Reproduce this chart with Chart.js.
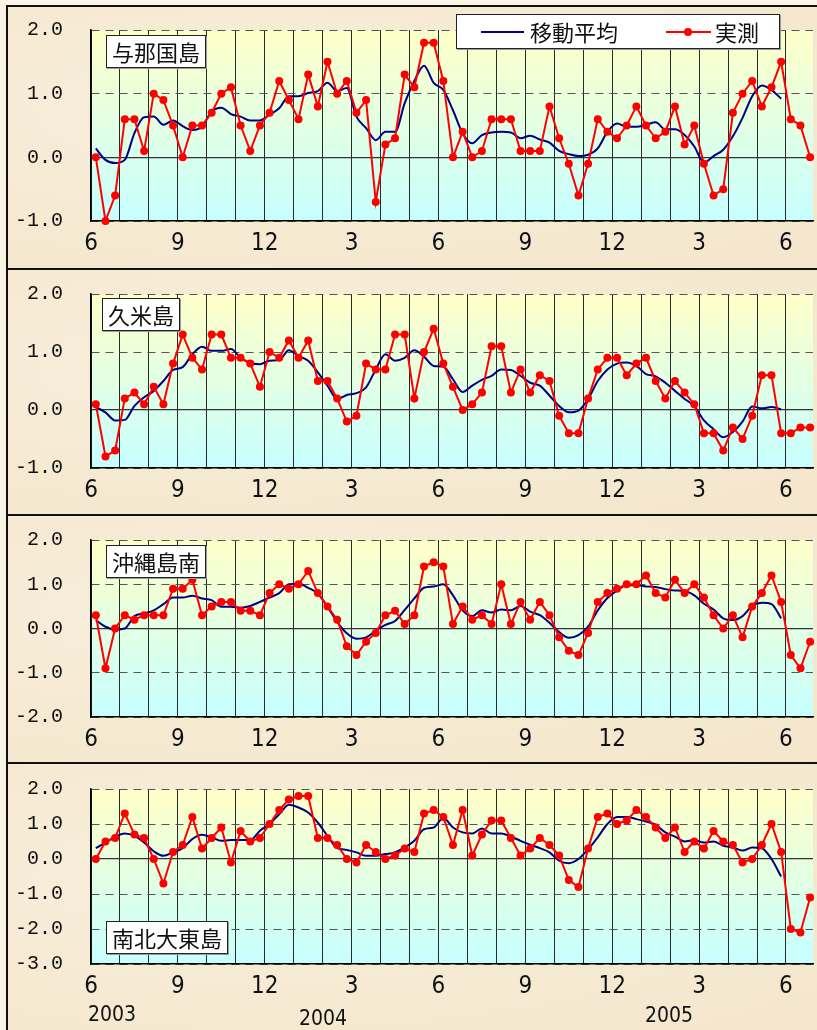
<!DOCTYPE html>
<html>
<head>
<meta charset="utf-8">
<script src="https://cdn.jsdelivr.net/npm/chart.js@4.4.1/dist/chart.umd.min.js"></script>
<style>
  body { margin: 0; width: 817px; height: 1030px; overflow: hidden; background: #fbf4e6; position: relative; }
  .panel { position: absolute; left: 6px; width: 830px; box-sizing: border-box;
           border-top: 2px solid #111; border-left: 2px solid #111;
           background: radial-gradient(ellipse at 30% 40%, #f8eedb 0%, #f4e6cc 100%); }
  canvas { position: absolute; left: 0; }
  .name { position: absolute; background: #fff; border: 1px solid #222; box-shadow: 1px 1px 0 #999;
          font: 22px "Noto Sans CJK JP", sans-serif; line-height: 31px; padding: 0 5px; color: #111; white-space: nowrap; }
  .legend { position: absolute; left: 456px; top: 14px; width: 324px; height: 35px; box-sizing: border-box;
            background: #fff; border: 1px solid #222; box-shadow: 1px 1px 0 #999;
            font: 22px "Noto Sans CJK JP", sans-serif; color: #111; }
  .legend span { position: absolute; }
  .year { position: absolute; font: 21px "Liberation Sans Narrow", "DejaVu Sans Condensed", sans-serif; color: #111; }
</style>
</head>
<body>

<div class="panel" style="top:5px;height:263px"></div>
<div class="panel" style="top:268px;height:246px"></div>
<div class="panel" style="top:514px;height:248px"></div>
<div class="panel" style="top:762px;height:280px"></div>

<canvas id="c1" width="817" height="278" style="top:-10px"></canvas>
<canvas id="c2" width="817" height="260" style="top:254px"></canvas>
<canvas id="c3" width="817" height="262" style="top:500px"></canvas>
<canvas id="c4" width="817" height="281" style="top:749px"></canvas>

<div class="name" style="left:106px;top:35px">与那国島</div>
<div class="name" style="left:102px;top:298px">久米島</div>
<div class="name" style="left:106px;top:545px">沖縄島南</div>
<div class="name" style="left:106px;top:921px">南北大東島</div>

<div class="legend">
  <span style="left:24px;top:16px;width:43px;height:2px;background:#000080"></span>
  <span style="left:73px;top:1px;line-height:31px">移動平均</span>
  <span style="left:209px;top:16px;width:45px;height:2px;background:#ff0000"></span>
  <span style="left:227px;top:13px;width:8px;height:8px;border-radius:50%;background:#ff0000"></span>
  <span style="left:258px;top:1px;line-height:31px">実測</span>
</div>

<div class="year" style="left:88px;top:1002px">2003</div>
<div class="year" style="left:299px;top:1006px">2004</div>
<div class="year" style="left:645px;top:1003px">2005</div>

<script>
// Sea level anomaly, 10-day (旬) values, June 2003 - June 2005
const monthTicks = ['6', '9', '12', '3', '6', '9', '12', '3', '6'];

const yonaguniObs = [0.0, -1.0, -0.6, 0.6, 0.6, 0.1, 1.0, 0.9, 0.5, 0.0,
    0.5, 0.5, 0.7, 1.0, 1.1, 0.5, 0.1, 0.5, 0.7, 1.2,
    0.9, 0.6, 1.3, 0.8, 1.5, 1.0, 1.2, 0.7, 0.9, -0.7,
    0.2, 0.3, 1.3, 1.1, 1.8, 1.8, 1.2, 0.0, 0.4, 0.0,
    0.1, 0.6, 0.6, 0.6, 0.1, 0.1, 0.1, 0.8, 0.3, -0.1,
    -0.6, -0.1, 0.6, 0.4, 0.3, 0.5, 0.8, 0.5, 0.3, 0.4,
    0.8, 0.2, 0.5, -0.1, -0.6, -0.5, 0.7, 1.0, 1.2, 0.8,
    1.1, 1.5, 0.6, 0.5, 0.0];
const yonaguniAvg = [0.14, -0.04, -0.09, -0.04, 0.38, 0.63, 0.64, 0.51, 0.58, 0.49,
    0.43, 0.48, 0.72, 0.78, 0.68, 0.64, 0.58, 0.58, 0.67, 0.77,
    0.96, 0.96, 1.01, 1.04, 1.17, 1.04, 1.09, 0.64, 0.46, 0.27,
    0.40, 0.40, 0.85, 1.20, 1.44, 1.17, 1.06, 0.74, 0.38, 0.22,
    0.35, 0.39, 0.40, 0.39, 0.30, 0.34, 0.28, 0.23, 0.10, 0.05,
    0.02, 0.04, 0.14, 0.40, 0.53, 0.48, 0.48, 0.51, 0.55, 0.44,
    0.44, 0.35, 0.17, -0.08, 0.02, 0.12, 0.33, 0.62, 0.96, 1.13,
    1.06, 0.92];

const kumeObs = [0.1, -0.8, -0.7, 0.2, 0.3, 0.1, 0.4, 0.1, 0.8, 1.3,
    0.9, 0.7, 1.3, 1.3, 0.9, 0.9, 0.8, 0.4, 1.0, 0.9,
    1.2, 0.9, 1.2, 0.5, 0.5, 0.2, -0.2, -0.1, 0.8, 0.7,
    0.7, 1.3, 1.3, 0.2, 1.0, 1.4, 0.8, 0.4, 0.0, 0.1,
    0.3, 1.1, 1.1, 0.3, 0.7, 0.3, 0.6, 0.5, -0.1, -0.4,
    -0.4, 0.2, 0.7, 0.9, 0.9, 0.6, 0.8, 0.9, 0.5, 0.2,
    0.5, 0.3, 0.1, -0.4, -0.4, -0.7, -0.3, -0.5, -0.1, 0.6,
    0.6, -0.4, -0.4, -0.3, -0.3];
const kumeAvg = [0.05, -0.04, -0.18, -0.17, 0.07, 0.22, 0.33, 0.50, 0.69, 0.74,
    0.96, 1.09, 1.02, 1.02, 1.05, 0.90, 0.81, 0.79, 0.85, 0.86,
    1.03, 0.93, 0.85, 0.65, 0.42, 0.19, 0.26, 0.29, 0.39, 0.70,
    0.96, 0.85, 0.90, 1.03, 0.92, 0.76, 0.75, 0.53, 0.31, 0.42,
    0.52, 0.59, 0.70, 0.69, 0.59, 0.47, 0.42, 0.25, 0.07, -0.04,
    -0.01, 0.19, 0.50, 0.70, 0.80, 0.82, 0.76, 0.62, 0.58, 0.47,
    0.33, 0.19, 0.07, -0.18, -0.33, -0.47, -0.38, -0.20, 0.06, 0.03,
    0.05, 0.01];

const okinawaObs = [0.3, -0.9, 0.0, 0.3, 0.2, 0.3, 0.3, 0.3, 0.9, 0.9,
    1.1, 0.3, 0.5, 0.6, 0.6, 0.4, 0.4, 0.3, 0.8, 1.0,
    0.9, 1.0, 1.3, 0.8, 0.5, 0.2, -0.4, -0.6, -0.3, -0.1,
    0.3, 0.4, 0.1, 0.3, 1.4, 1.5, 1.4, 0.1, 0.5, 0.2,
    0.3, 0.1, 1.0, 0.1, 0.6, 0.2, 0.6, 0.3, -0.2, -0.5,
    -0.6, -0.1, 0.6, 0.8, 0.9, 1.0, 1.0, 1.2, 0.8, 0.7,
    1.1, 0.8, 1.0, 0.7, 0.3, 0.0, 0.3, -0.2, 0.5, 0.8,
    1.2, 0.6, -0.6, -0.9, -0.3];
const okinawaAvg = [0.19, 0.04, -0.02, 0.0, 0.28, 0.34, 0.41, 0.55, 0.70, 0.70,
    0.74, 0.68, 0.64, 0.49, 0.49, 0.47, 0.51, 0.60, 0.70, 0.80,
    1.00, 1.01, 0.92, 0.79, 0.49, 0.15, -0.11, -0.23, -0.20, -0.05,
    0.08, 0.17, 0.42, 0.68, 0.92, 0.95, 1.00, 0.75, 0.41, 0.28,
    0.41, 0.36, 0.43, 0.41, 0.51, 0.38, 0.30, 0.13, -0.08, -0.21,
    -0.15, 0.04, 0.41, 0.69, 0.86, 0.98, 0.98, 0.95, 0.94, 0.89,
    0.86, 0.85, 0.75, 0.56, 0.43, 0.23, 0.19, 0.28, 0.51, 0.58,
    0.55, 0.23];

const daitoObs = [0.0, 0.5, 0.6, 1.3, 0.7, 0.6, 0.0, -0.7, 0.2, 0.4,
    1.2, 0.3, 0.6, 0.9, -0.1, 0.8, 0.5, 0.6, 1.0, 1.4,
    1.7, 1.8, 1.8, 0.6, 0.6, 0.4, 0.0, -0.1, 0.4, 0.2,
    0.0, 0.1, 0.3, 0.2, 1.3, 1.4, 1.2, 0.4, 1.4, 0.1,
    0.7, 1.1, 1.1, 0.6, 0.1, 0.3, 0.6, 0.4, 0.1, -0.6,
    -0.8, 0.3, 1.2, 1.3, 1.0, 1.1, 1.4, 1.2, 0.9, 0.6,
    0.9, 0.2, 0.5, 0.3, 0.8, 0.5, 0.4, -0.1, 0.0, 0.4,
    1.0, 0.2, -2.0, -2.1, -1.1];
const daitoAvg = [0.31, 0.47, 0.64, 0.73, 0.66, 0.47, 0.22, 0.09, 0.19, 0.31,
    0.57, 0.69, 0.62, 0.52, 0.54, 0.54, 0.54, 0.81, 1.00, 1.28,
    1.55, 1.47, 1.33, 1.04, 0.66, 0.31, 0.26, 0.19, 0.09, 0.09,
    0.14, 0.19, 0.33, 0.52, 0.85, 0.90, 1.17, 0.90, 0.76, 0.73,
    0.87, 0.73, 0.73, 0.64, 0.52, 0.41, 0.31, 0.19, -0.05, -0.12,
    0.00, 0.28, 0.62, 1.00, 1.20, 1.20, 1.14, 1.07, 0.98, 0.76,
    0.64, 0.50, 0.54, 0.47, 0.50, 0.38, 0.33, 0.24, 0.33, 0.31,
    0.00, -0.50];

Chart.defaults.font.family = '"Liberation Sans Narrow", "DejaVu Sans Condensed", sans-serif';
Chart.defaults.color = '#111';

// yellow -> cyan fill behind the plot
const plotBg = {
    id: 'plotBg',
    beforeDraw(chart) {
        const { ctx, chartArea: a } = chart;
        const g = ctx.createLinearGradient(0, a.top, 0, a.bottom);
        g.addColorStop(0, '#ffffc8');
        g.addColorStop(1, '#c6ffff');
        ctx.save();
        ctx.fillStyle = g;
        ctx.fillRect(a.left, a.top, a.right - a.left, a.bottom - a.top);
        ctx.restore();
    }
};

// each point sits in the middle of its 10-day slot (3 slots per month)
function toPoints(arr) {
    return arr.map((v, i) => ({ x: i + 0.5, y: v }));
}

function makePanel(id, obs, avg, yMin, yMax, padBottom) {
    const ctx = document.getElementById(id).getContext('2d');
    return new Chart(ctx, {
        type: 'line',
        data: {
            datasets: [{
                label: '実測',
                data: toPoints(obs),
                borderColor: '#ff0000',
                backgroundColor: '#ff0000',
                borderWidth: 2,
                pointRadius: 4,
                pointBorderWidth: 0,
                tension: 0,
                clip: false
            }, {
                label: '移動平均',
                data: toPoints(avg),
                borderColor: '#000080',
                borderWidth: 2,
                pointRadius: 0,
                cubicInterpolationMode: 'monotone'
            }]
        },
        options: {
            responsive: false,
            animation: false,
            devicePixelRatio: 1,
            layout: { padding: { top: 0, bottom: padBottom, left: 0, right: 0 } },
            plugins: { legend: { display: false }, tooltip: { enabled: false } },
            scales: {
                x: {
                    type: 'linear',
                    min: 0,
                    max: 74.8,
                    afterFit: s => { s.height = 30; },
                    grid: { color: '#2a2a2a', lineWidth: 1, drawTicks: false },
                    border: { color: '#000', width: 1.5 },
                    ticks: {
                        stepSize: 3,
                        autoSkip: false,
                        includeBounds: false,
                        maxRotation: 0,
                        padding: 8,
                        font: { size: 24 },
                        callback: v => (v % 9 === 0 ? monthTicks[v / 9] : '')
                    }
                },
                y: {
                    min: yMin,
                    max: yMax,
                    afterFit: s => { s.width = 91; },
                    grid: {
                        drawTicks: false,
                        color: c => (c.tick && c.tick.value === 0 ? '#333' : '#555'),
                        lineWidth: c => (c.tick && c.tick.value === 0 ? 1.3 : 1)
                    },
                    border: {
                        color: '#000',
                        width: 1.5,
                        dash: c => (c.tick && c.tick.value !== 0 ? [8, 6] : [])
                    },
                    ticks: {
                        stepSize: 1,
                        padding: 28,
                        font: { family: '"Liberation Mono", "DejaVu Sans Mono", monospace', size: 20 },
                        callback: v => v.toFixed(1)
                    }
                }
            }
        },
        plugins: [plotBg]
    });
}

makePanel('c1', yonaguniObs, yonaguniAvg, -1, 2, 17);
makePanel('c2', kumeObs, kumeAvg, -1, 2, 16);
makePanel('c3', okinawaObs, okinawaAvg, -2, 2, 15);
makePanel('c4', daitoObs, daitoAvg, -3, 2, 36);
</script>
</body>
</html>
